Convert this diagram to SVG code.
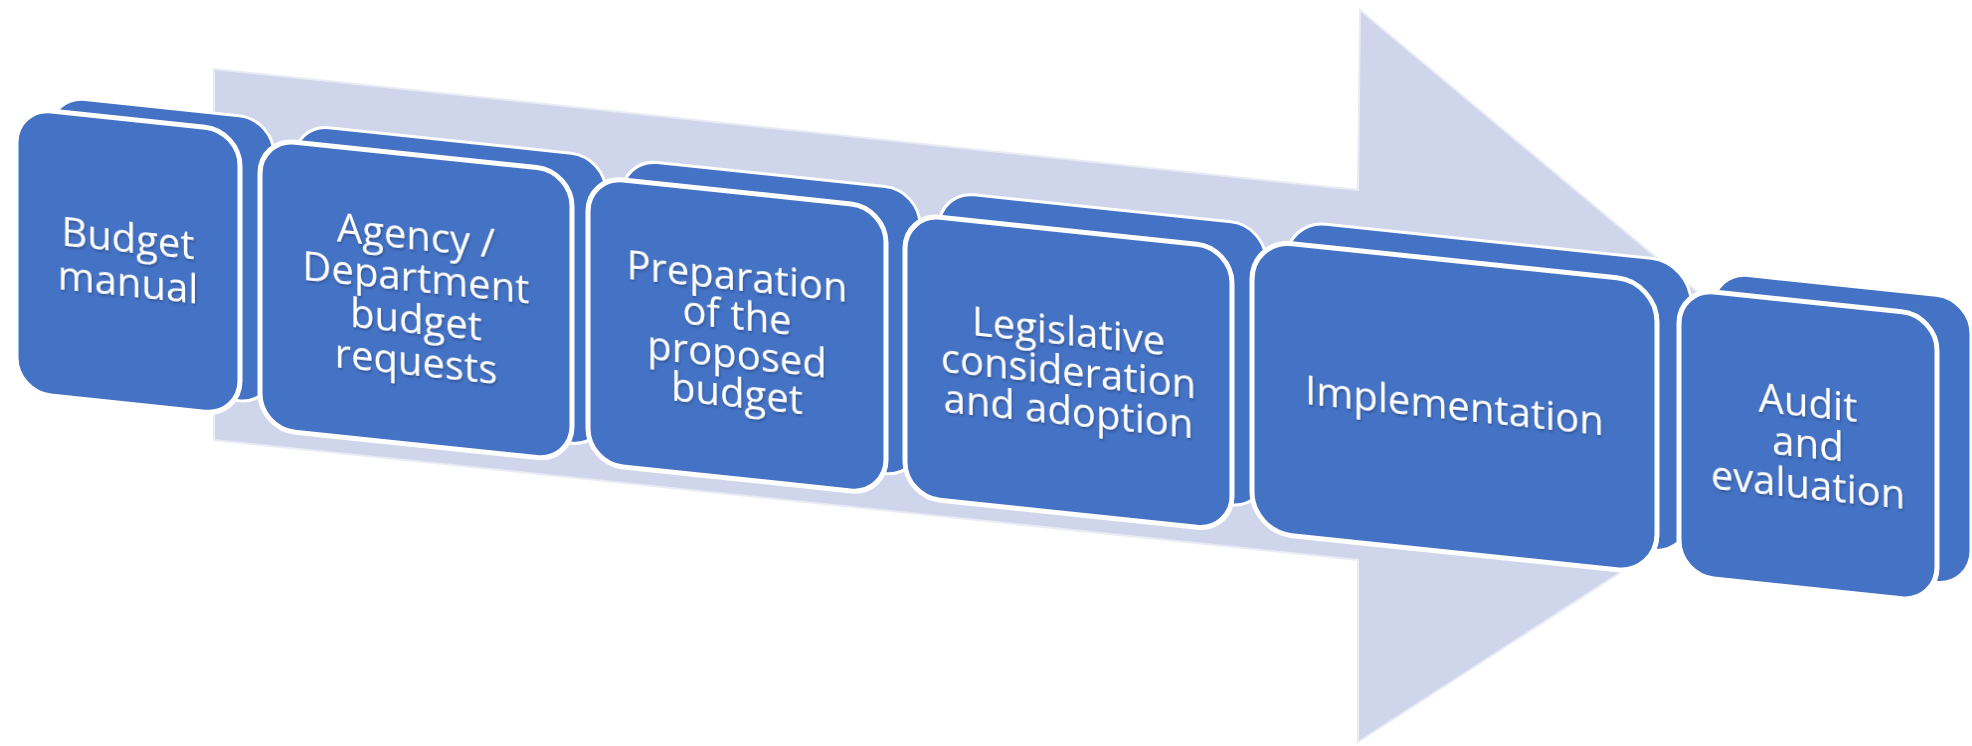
<svg xmlns="http://www.w3.org/2000/svg" width="1972" height="746" viewBox="0 0 1972 746">
<defs>
<style>
.bg{fill:#ffffff}
.arrow{fill:#CFD5EA;stroke:#E9ECF5;stroke-width:2;stroke-linejoin:miter}
.back{fill:#4472C4;stroke:#ffffff;stroke-width:3}
.front{fill:#4472C4;stroke:#ffffff;stroke-width:5}
.lbl{font-family:"Open Sans","Liberation Sans",sans-serif;font-size:40px;fill:#ffffff;text-anchor:middle;filter:url(#ts)}
</style>
<filter id="ts" x="-10%" y="-30%" width="120%" height="160%">
<feDropShadow dx="1" dy="2" stdDeviation="1" flood-color="#1e3a70" flood-opacity="0.55"/>
</filter>
</defs>
<rect class="bg" x="0" y="0" width="1972" height="746"/>
<g id="arrow">
<polygon class="arrow" points="214,69 1358,190 1360,10 1853,422 1358,742 1358,560 214,440"/>
</g>
<g id="connectors"></g>
<g id="node1" transform="matrix(1,0.105,0,1,0,0)">
<rect class="back" x="50" y="90.6" width="224" height="285" rx="35"/>
<rect class="front" x="16" y="105.6" width="224" height="285" rx="35"/>
<text class="lbl"><tspan x="128" y="239.1">Budget</tspan><tspan x="128" y="283.1">manual</tspan></text>
</g>
<g id="node2" transform="matrix(1,0.105,0,1,0,0)">
<rect class="back" x="294" y="93.2" width="312" height="290" rx="35"/>
<rect class="front" x="260" y="111.2" width="312" height="290" rx="35"/>
<text class="lbl"><tspan x="416" y="206.2">Agency /</tspan><tspan x="416" y="248.2">Department</tspan><tspan x="416" y="290.2">budget</tspan><tspan x="416" y="332.2">requests</tspan></text>
</g>
<g id="node3" transform="matrix(1,0.105,0,1,0,0)">
<rect class="back" x="622" y="93.6" width="298" height="287" rx="35"/>
<rect class="front" x="588" y="114.6" width="298" height="287" rx="35"/>
<text class="lbl"><tspan x="737" y="212.6">Preparation</tspan><tspan x="737" y="251.6">of the</tspan><tspan x="737" y="290.6">proposed</tspan><tspan x="737" y="329.6">budget</tspan></text>
</g>
<g id="node4" transform="matrix(1,0.105,0,1,0,0)">
<rect class="back" x="939" y="92.6" width="327" height="283" rx="35"/>
<rect class="front" x="905" y="118.6" width="327" height="283" rx="35"/>
<text class="lbl"><tspan x="1068.5" y="233.1">Legislative</tspan><tspan x="1068.5" y="273.1">consideration</tspan><tspan x="1068.5" y="313.1">and adoption</tspan></text>
</g>
<g id="node5" transform="matrix(1,0.105,0,1,0,0)">
<rect class="back" x="1286" y="85" width="405" height="292" rx="40"/>
<rect class="front" x="1252" y="108" width="405" height="292" rx="40"/>
<text class="lbl"><tspan x="1454.5" y="267">Implementation</tspan></text>
</g>
<g id="node6" transform="matrix(1,0.105,0,1,0,0)">
<rect class="back" x="1713" y="92" width="258" height="287" rx="35"/>
<rect class="front" x="1679" y="112" width="258" height="287" rx="35"/>
<text class="lbl"><tspan x="1808" y="227.5">Audit</tspan><tspan x="1808" y="268.5">and</tspan><tspan x="1808" y="309.5">evaluation</tspan></text>
</g>
</svg>
